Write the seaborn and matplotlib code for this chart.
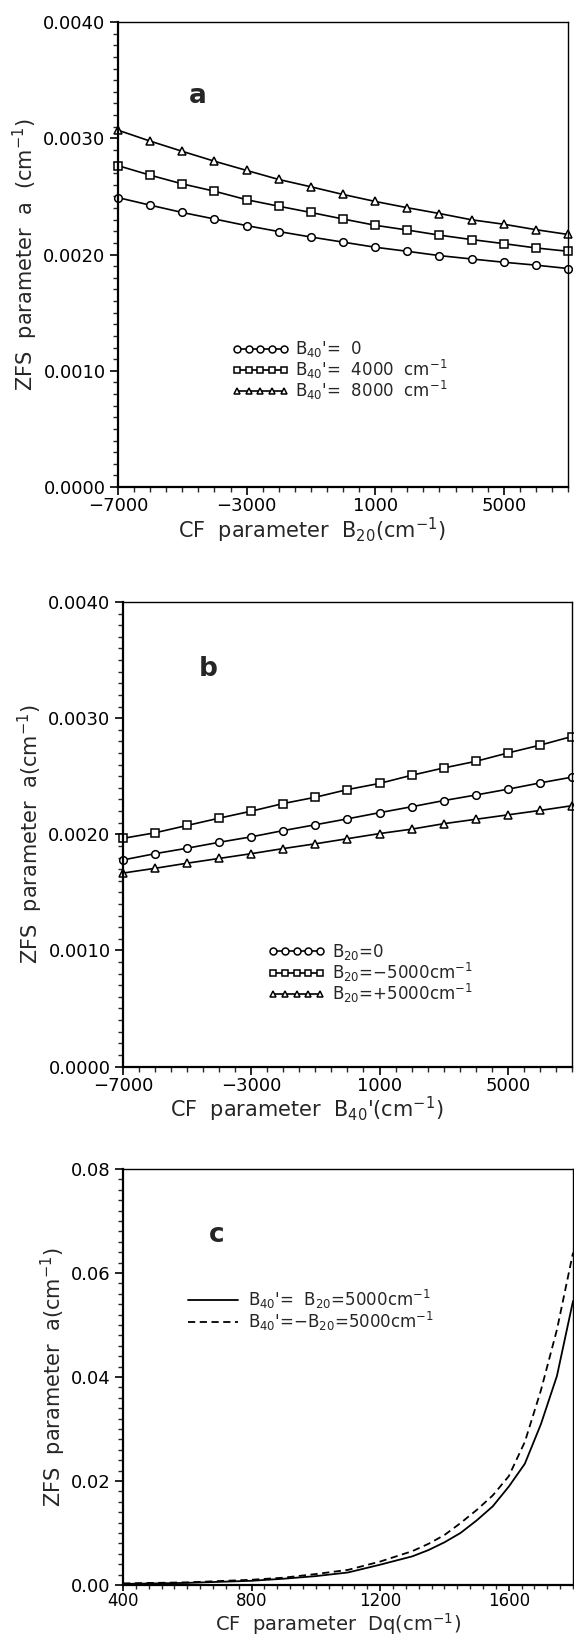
import numpy as np
import pandas as pd
import matplotlib
matplotlib.use("Agg")
import matplotlib.pyplot as plt
import seaborn as sns
from matplotlib.ticker import MultipleLocator

# panel a: a vs B20 for three B40'
b20 = [-7000, -6000, -5000, -4000, -3000, -2000, -1000, 0, 1000, 2000, 3000, 4000, 5000, 6000, 7000]
a_b40_0 = [0.00249, 0.002425, 0.002362, 0.002306, 0.002249, 0.002198, 0.002151, 0.002107,
           0.002063, 0.002028, 0.001991, 0.001962, 0.001934, 0.001909, 0.00188]
a_b40_4000 = [0.002765, 0.002683, 0.002608, 0.002545, 0.002472, 0.002416, 0.002362, 0.002306,
              0.002252, 0.002211, 0.002167, 0.002129, 0.002094, 0.002057, 0.002028]
a_b40_8000 = [0.00307, 0.002976, 0.002888, 0.002803, 0.002724, 0.002646, 0.002583, 0.002517,
              0.002457, 0.002403, 0.002353, 0.002299, 0.002261, 0.002214, 0.002173]

# panel b: a vs B40' for three B20
b40 = [-7000, -6000, -5000, -4000, -3000, -2000, -1000, 0, 1000, 2000, 3000, 4000, 5000, 6000, 7000]
b_b20_0 = [0.001779, 0.001833, 0.00188, 0.001931, 0.001978, 0.002032, 0.002082, 0.002133,
           0.002186, 0.002237, 0.00229, 0.002338, 0.002388, 0.002442, 0.002492]
b_b20_m5000 = [0.001965, 0.002013, 0.002076, 0.002139, 0.002199, 0.002265, 0.002319, 0.002385,
               0.002438, 0.002508, 0.002571, 0.002628, 0.0027, 0.002767, 0.002842]
b_b20_p5000 = [0.001666, 0.001707, 0.001751, 0.001792, 0.001833, 0.001877, 0.001918, 0.001962,
               0.002006, 0.002044, 0.002091, 0.002129, 0.002167, 0.002205, 0.002246]

# panel c: a vs Dq
dq = [400, 600, 800, 900, 1000, 1100, 1200, 1300, 1350, 1400, 1450, 1500, 1550, 1600, 1650, 1700, 1750, 1800]
c_same = [0.0002, 0.0004, 0.0008, 0.0012, 0.0017, 0.0024, 0.0039, 0.0055, 0.0067, 0.0082,
          0.0100, 0.0124, 0.0151, 0.0189, 0.0233, 0.0309, 0.0402, 0.0546]
c_opp = [0.0003, 0.0005, 0.0010, 0.0014, 0.0021, 0.0029, 0.0045, 0.0065, 0.0079, 0.0096,
         0.0119, 0.0144, 0.0172, 0.0209, 0.0275, 0.0374, 0.0491, 0.0639]

sns.set_style("ticks")
plt.rcParams['font.family'] = ['DejaVu Sans']
plt.rcParams['mathtext.fontset'] = 'dejavusans'

fig = plt.figure(figsize=(5.74, 16.36), dpi=100)
ax_a = fig.add_axes([0.2056, 0.7023, 0.784, 0.2842])
ax_b = fig.add_axes([0.2143, 0.3481, 0.782, 0.2839])
ax_c = fig.add_axes([0.2143, 0.0312, 0.784, 0.2543])


def style_axis(ax, xmaj, xmin, ymaj, ymin, fmt):
    ax.xaxis.set_major_locator(MultipleLocator(xmaj))
    ax.xaxis.set_minor_locator(MultipleLocator(xmin))
    ax.yaxis.set_major_locator(MultipleLocator(ymaj))
    ax.yaxis.set_minor_locator(MultipleLocator(ymin))
    ax.yaxis.set_major_formatter(plt.FuncFormatter(lambda v, p: fmt.format(v)))
    ax.tick_params(which='major', direction='out', length=5.5, width=1.2, labelsize=13, colors='black', pad=2)
    ax.tick_params(axis='y', which='major', pad=3.5)
    ax.tick_params(which='minor', direction='out', length=3.5, width=1.0)
    for s in ax.spines.values():
        s.set_color('black')
        s.set_linewidth(1.0)
    ax.spines['left'].set_linewidth(1.6)
    ax.spines['bottom'].set_linewidth(1.6)


def marker_panel(ax, x, series, labels, markers):
    df = pd.DataFrame({'x': x * len(series),
                       'y': sum(series, []),
                       'lab': sum([[l] * len(x) for l in labels], [])})
    sns.lineplot(data=df, x='x', y='y', hue='lab', style='lab', ax=ax,
                 palette=['black'] * len(labels), markers=markers, dashes=False,
                 markersize=5.5, markerfacecolor='white', markeredgecolor='black',
                 markeredgewidth=1.1, linewidth=1.2, legend=False, clip_on=False)
    for lab, mk in zip(labels, markers):
        ax.plot([], [], color='black', lw=1.2, marker=mk, ms=5, mfc='white', mec='black', mew=1.1, label=lab)


xlabels_ab = ['\u22127000', '\u22123000', '1000', '5000']

# panel a
marker_panel(ax_a, b20, [a_b40_0, a_b40_4000, a_b40_8000],
             ["B$_{40}$'=  0", "B$_{40}$'=  4000  cm$^{-1}$", "B$_{40}$'=  8000  cm$^{-1}$"],
             ['o', 's', '^'])
ax_a.set_xlim(-7000, 7000)
ax_a.set_ylim(0, 0.004)
style_axis(ax_a, 4000, 500, 0.001, 0.0001, '{:.4f}')
ax_a.set_xticks([-7000, -3000, 1000, 5000])
ax_a.set_xticklabels(xlabels_ab)
ax_a.set_xlabel("CF  parameter  B$_{20}$(cm$^{-1}$)", fontsize=15, labelpad=0)
ax_a.xaxis.label.set_x(0.43)
ax_a.set_ylabel("ZFS  parameter  a  (cm$^{-1}$)", fontsize=15, labelpad=2)
ax_a.text(0.178, 0.84, 'a', transform=ax_a.transAxes, fontsize=19, fontweight='bold', ha='center', va='center')
ax_a.legend(loc='center left', bbox_to_anchor=(0.22, 0.25), frameon=False, numpoints=5,
            handlelength=3.4, handletextpad=0.4, labelspacing=-0.1, fontsize=12)

# panel b
marker_panel(ax_b, b40, [b_b20_0, b_b20_m5000, b_b20_p5000],
             ["B$_{20}$=0", "B$_{20}$=\u22125000cm$^{-1}$", "B$_{20}$=+5000cm$^{-1}$"],
             ['o', 's', '^'])
ax_b.set_xlim(-7000, 7000)
ax_b.set_ylim(0, 0.004)
style_axis(ax_b, 4000, 500, 0.001, 0.0001, '{:.4f}')
ax_b.set_xticks([-7000, -3000, 1000, 5000])
ax_b.set_xticklabels(xlabels_ab)
ax_b.set_xlabel("CF  parameter  B$_{40}$'(cm$^{-1}$)", fontsize=15, labelpad=0)
ax_b.xaxis.label.set_x(0.41)
ax_b.set_ylabel("ZFS  parameter  a(cm$^{-1}$)", fontsize=15, labelpad=2)
ax_b.text(0.19, 0.855, 'b', transform=ax_b.transAxes, fontsize=19, fontweight='bold', ha='center', va='center')
ax_b.legend(loc='center left', bbox_to_anchor=(0.29, 0.2), frameon=False, numpoints=5,
            handlelength=3.4, handletextpad=0.4, labelspacing=-0.1, fontsize=12)

# panel c
lab_same = "B$_{40}$'=  B$_{20}$=5000cm$^{-1}$"
lab_opp = "B$_{40}$'=\u2212B$_{20}$=5000cm$^{-1}$"
dfc = pd.DataFrame({'Dq': dq * 2, 'a': c_same + c_opp,
                    'lab': [lab_same] * len(dq) + [lab_opp] * len(dq)})
sns.lineplot(data=dfc, x='Dq', y='a', hue='lab', style='lab', ax=ax_c,
             palette=['black', 'black'], dashes=[(None, None), (4, 2.5)],
             linewidth=1.3, legend=False)
ax_c.plot([], [], color='black', lw=1.3, label=lab_same)
ax_c.plot([], [], color='black', lw=1.3, ls=(0, (4, 2.5)), label=lab_opp)
ax_c.set_xlim(400, 1800)
ax_c.set_ylim(0, 0.08)
style_axis(ax_c, 400, 40, 0.02, 0.002, '{:.2f}')
ax_c.tick_params(axis='x', which='major', length=4, pad=1, labelsize=12)
ax_c.tick_params(axis='x', which='minor', length=3)
ax_c.set_xlabel("CF  parameter  Dq(cm$^{-1}$)", fontsize=14)
# baseline at 1631 px from the top of the figure, axes bottom at 1585 px
ax_c.xaxis.set_label_coords(0.478, -(1631 - 1585) / 416)
ax_c.xaxis.label.set_verticalalignment('baseline')
ax_c.set_ylabel("ZFS  parameter  a(cm$^{-1}$)", fontsize=15, labelpad=2)
ax_c.text(0.209, 0.84, 'c', transform=ax_c.transAxes, fontsize=19, fontweight='bold', ha='center', va='center')
ax_c.legend(loc='center left', bbox_to_anchor=(0.11, 0.66), frameon=False,
            handlelength=3.0, handletextpad=0.6, labelspacing=-0.1, fontsize=12)

fig.savefig('out.png', dpi=100)
